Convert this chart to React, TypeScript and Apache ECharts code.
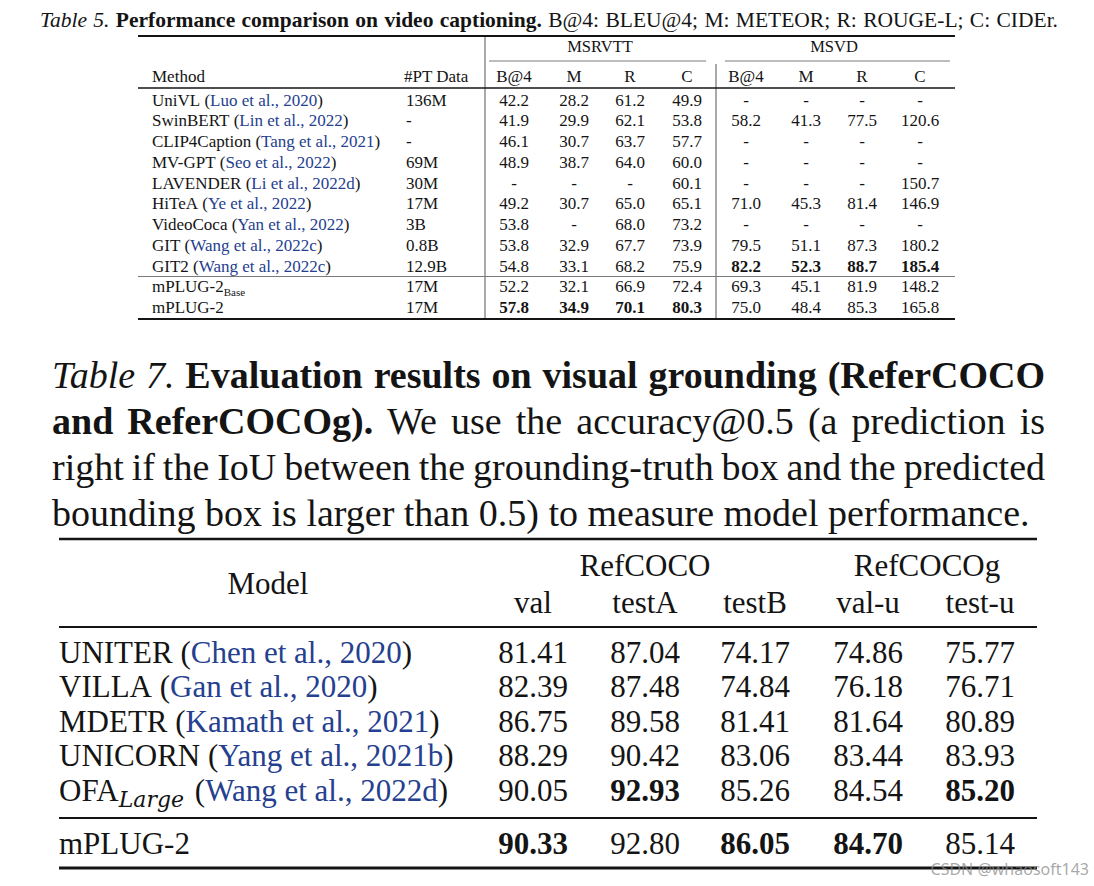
import React, { useEffect, useRef } from "react";
import * as echarts from "echarts";

// ---------------- Table 5 data ----------------
const t5Caption: [string, string][] = [
  ["Table 5.", "i"],
  ["Performance comparison on video captioning.", "b"],
  ["B@4: BLEU@4; M: METEOR; R: ROUGE-L; C: CIDEr.", "r"],
];
const vcDatasets = ["MSRVTT", "MSVD"];
const vcMetricLabels = ["B@4", "M", "R", "C", "B@4", "M", "R", "C"];
const vcHeaderMethod = "Method";
const vcHeaderPT = "#PT Data";
const vcMethods = ["UniVL", "SwinBERT", "CLIP4Caption", "MV-GPT", "LAVENDER", "HiTeA", "VideoCoca", "GIT", "GIT2", "mPLUG-2", "mPLUG-2"];
const vcMethodSubs = ["", "", "", "", "", "", "", "", "", "Base", ""];
const vcCitations = ["Luo et al., 2020", "Lin et al., 2022", "Tang et al., 2021", "Seo et al., 2022", "Li et al., 2022d", "Ye et al., 2022", "Yan et al., 2022", "Wang et al., 2022c", "Wang et al., 2022c", "", ""];
const vcPTData = ["136M", "-", "-", "69M", "30M", "17M", "3B", "0.8B", "12.9B", "17M", "17M"];
const msrvttB4 = [42.2, 41.9, 46.1, 48.9, null, 49.2, 53.8, 53.8, 54.8, 52.2, 57.8];
const msrvttM = [28.2, 29.9, 30.7, 38.7, null, 30.7, null, 32.9, 33.1, 32.1, 34.9];
const msrvttR = [61.2, 62.1, 63.7, 64.0, null, 65.0, 68.0, 67.7, 68.2, 66.9, 70.1];
const msrvttC = [49.9, 53.8, 57.7, 60.0, 60.1, 65.1, 73.2, 73.9, 75.9, 72.4, 80.3];
const msvdB4 = [null, 58.2, null, null, null, 71.0, null, 79.5, 82.2, 69.3, 75.0];
const msvdM = [null, 41.3, null, null, null, 45.3, null, 51.1, 52.3, 45.1, 48.4];
const msvdR = [null, 77.5, null, null, null, 81.4, null, 87.3, 88.7, 81.9, 85.3];
const msvdC = [null, 120.6, null, null, 150.7, 146.9, null, 180.2, 185.4, 148.2, 165.8];
const vcBold: [number, number][] = [[8, 4], [8, 5], [8, 6], [8, 7], [10, 0], [10, 1], [10, 2], [10, 3]];

// ---------------- Table 7 data ----------------
const t7CaptionLines: [string, string][][] = [
  [["Table 7.", "i"], ["Evaluation results on visual grounding (ReferCOCO", "b"]],
  [["and ReferCOCOg).", "b"], ["We use the accuracy@0.5 (a prediction is", "r"]],
  [["right if the IoU between the grounding-truth box and the predicted", "r"]],
  [["bounding box is larger than 0.5) to measure model performance.", "r"]],
];
const vgHeaderModel = "Model";
const vgDatasets = ["RefCOCO", "RefCOCOg"];
const vgSplitLabels = ["val", "testA", "testB", "val-u", "test-u"];
const vgModels = ["UNITER", "VILLA", "MDETR", "UNICORN", "OFA", "mPLUG-2"];
const vgModelSubs = ["", "", "", "", "Large", ""];
const vgCitations = ["Chen et al., 2020", "Gan et al., 2020", "Kamath et al., 2021", "Yang et al., 2021b", "Wang et al., 2022d", ""];
const refcocoVal = [81.41, 82.39, 86.75, 88.29, 90.05, 90.33];
const refcocoTestA = [87.04, 87.48, 89.58, 90.42, 92.93, 92.8];
const refcocoTestB = [74.17, 74.84, 81.41, 83.06, 85.26, 86.05];
const refcocogValU = [74.86, 76.18, 81.64, 83.44, 84.54, 84.7];
const refcocogTestU = [75.77, 76.71, 80.89, 83.93, 85.2, 85.14];
const vgBold: [number, number][] = [[4, 1], [4, 4], [5, 0], [5, 2], [5, 3]];

const watermark = "CSDN @whaosoft143";

// ---------------- styling ----------------
const SERIF = "Liberation Serif, Times New Roman, serif";
const MATH = "DejaVu Serif, serif";
const INK = "#141414";
const LINK = "#25408f";
const GRAY = "#7a7a7a";

const canvas = typeof document !== "undefined" ? document.createElement("canvas") : null;
const ctx = canvas ? canvas.getContext("2d") : null;

function styleOf(k: string) {
  if (k === "i") return { weight: "normal", fstyle: "italic" };
  if (k === "b") return { weight: "bold", fstyle: "normal" };
  return { weight: "normal", fstyle: "normal" };
}

function measure(text: string, size: number, weight = "normal", fstyle = "normal", family = SERIF) {
  if (!ctx) return text.length * size * 0.5;
  ctx.font = `${fstyle} ${weight} ${size}px ${family}`;
  return ctx.measureText(text).width;
}

function txt(x: number, y: number, text: string, o: any = {}) {
  const align = o.align || "left";
  return {
    type: "text",
    x,
    y,
    silent: true,
    style: {
      text,
      fill: o.color || INK,
      fontSize: o.size || 17,
      fontFamily: o.family || SERIF,
      fontWeight: o.weight || "normal",
      fontStyle: o.fstyle || "normal",
      textAlign: align,
      align,
      textVerticalAlign: "middle",
      verticalAlign: "middle",
    },
  };
}

function line(x1: number, y1: number, x2: number, y2: number, lw: number, color = INK) {
  return { type: "line", silent: true, shape: { x1, y1, x2, y2 }, style: { stroke: color, lineWidth: lw } };
}

type Run = { text: string; size: number; weight?: string; fstyle?: string; color?: string; dy?: number; family?: string; after?: number };

function runs(x: number, y: number, list: Run[]) {
  const out: any[] = [];
  let cx = x;
  for (const r of list) {
    out.push(txt(cx, y + (r.dy || 0), r.text, r));
    cx += measure(r.text, r.size, r.weight || "normal", r.fstyle || "normal", r.family || SERIF) + (r.after || 0);
  }
  return out;
}

function paragraphLine(x0: number, x1: number, y: number, segs: [string, string][], size: number, justify: boolean) {
  const words: { w: string; weight: string; fstyle: string; width: number }[] = [];
  for (const [t, k] of segs) {
    const s = styleOf(k);
    for (const w of t.split(" ")) {
      if (!w) continue;
      words.push({ w, weight: s.weight, fstyle: s.fstyle, width: measure(w, size, s.weight, s.fstyle) });
    }
  }
  const total = words.reduce((a, b) => a + b.width, 0);
  const gap = justify && words.length > 1 ? (x1 - x0 - total) / (words.length - 1) : measure(" ", size);
  const out: any[] = [];
  let cx = x0;
  for (const w of words) {
    out.push(txt(cx, y, w.w, { size, weight: w.weight, fstyle: w.fstyle }));
    cx += w.width + gap;
  }
  return out;
}

function nameRuns(name: string, sub: string, cite: string, size: number, mathSub: boolean): Run[] {
  const r: Run[] = [{ text: name, size }];
  if (sub) {
    if (mathSub) r.push({ text: sub, size: Math.round(size * 0.7), fstyle: "italic", family: MATH, dy: size * 0.3, after: 3 });
    else r.push({ text: sub, size: Math.round(size * 0.66), dy: size * 0.28 });
  }
  if (cite) {
    r.push({ text: " (", size });
    r.push({ text: cite, size, color: LINK });
    r.push({ text: ")", size });
  }
  return r;
}

function buildElements() {
  const el: any[] = [];

  // ===== Table 5 =====
  const T5 = { left: 138, right: 955, font: 17 };
  el.push(...paragraphLine(40, 1058, 20, t5Caption, 21.5, true));
  el.push(line(T5.left, 36, T5.right, 36, 2));
  el.push(line(485, 37, 485, 319, 1, "#555"));
  el.push(line(716, 64, 716, 319, 1, "#555"));
  const vcCols = [514, 574, 630, 687, 746, 806, 862, 920];
  el.push(txt(600, 46, vcDatasets[0], { size: 16.5, align: "center" }));
  el.push(txt(834, 46, vcDatasets[1], { size: 16.5, align: "center" }));
  el.push(line(489, 61, 706, 61, 1, GRAY));
  el.push(line(725, 61, 950, 61, 1, GRAY));
  el.push(txt(152, 76, vcHeaderMethod, { size: T5.font }));
  el.push(txt(404, 76, vcHeaderPT, { size: T5.font }));
  vcMetricLabels.forEach((m, j) => el.push(txt(vcCols[j], 76, m, { size: T5.font, align: "center" })));
  el.push(line(T5.left, 88, T5.right, 88, 1.5));
  const vcColumns = [msrvttB4, msrvttM, msrvttR, msrvttC, msvdB4, msvdM, msvdR, msvdC];
  vcMethods.forEach((m, i) => {
    const y = 100 + i * 20.75;
    el.push(...runs(152, y, nameRuns(m, vcMethodSubs[i], vcCitations[i], T5.font, false)));
    el.push(txt(406, y, vcPTData[i], { size: T5.font }));
    vcColumns.forEach((col, j) => {
      const v = col[i];
      const bold = vcBold.some(([r, c]) => r === i && c === j);
      el.push(txt(vcCols[j], y, v == null ? "-" : v.toFixed(1), { size: T5.font, align: "center", weight: bold ? "bold" : "normal" }));
    });
  });
  el.push(line(T5.left, 276.5, T5.right, 276.5, 1, GRAY));
  el.push(line(T5.left, 319, T5.right, 319, 2.2));

  // ===== Table 7 =====
  const capY = [375, 421, 467, 513];
  t7CaptionLines.forEach((segs, i) => {
    el.push(...paragraphLine(52, 1045, capY[i], segs, 38, i < 3));
  });
  const T7 = { left: 59, right: 1037, font: 31 };
  el.push(line(T7.left, 539, T7.right, 539, 2.6));
  el.push(txt(268, 583, vgHeaderModel, { size: T7.font, align: "center" }));
  el.push(txt(645, 565, vgDatasets[0], { size: T7.font, align: "center" }));
  el.push(txt(927, 565, vgDatasets[1], { size: T7.font, align: "center" }));
  const vgCols = [533, 645, 755, 868, 980];
  vgSplitLabels.forEach((s, j) => el.push(txt(vgCols[j], 602, s, { size: T7.font, align: "center" })));
  el.push(line(T7.left, 627, T7.right, 627, 2));
  const vgColumns = [refcocoVal, refcocoTestA, refcocoTestB, refcocogValU, refcocogTestU];
  vgModels.forEach((m, i) => {
    const y = i < 5 ? 652 + i * 34.5 : 843;
    el.push(...runs(T7.left, y, nameRuns(m, vgModelSubs[i], vgCitations[i], T7.font, true)));
    vgColumns.forEach((col, j) => {
      const bold = vgBold.some(([r, c]) => r === i && c === j);
      el.push(txt(vgCols[j], y, col[i].toFixed(2), { size: T7.font, align: "center", weight: bold ? "bold" : "normal" }));
    });
  });
  el.push(line(T7.left, 818, T7.right, 818, 2));
  el.push(line(T7.left, 868, T7.right, 868, 3));

  el.push(txt(1089, 869, watermark, { size: 16, align: "right", family: "Noto Sans, sans-serif", color: "rgba(140,140,140,0.75)" }));
  return el;
}

export default function App() {
  const ref = useRef<HTMLDivElement>(null);
  useEffect(() => {
    if (!ref.current) return;
    const chart = echarts.init(ref.current, null, { renderer: "svg" });
    chart.setOption({
      animation: false,
      backgroundColor: "#ffffff",
      graphic: { elements: buildElements() },
    });
    return () => chart.dispose();
  }, []);
  return (
    <div
      ref={ref}
      style={{ position: "fixed", left: 0, top: 0, width: 1094, height: 886, background: "#ffffff" }}
    />
  );
}
